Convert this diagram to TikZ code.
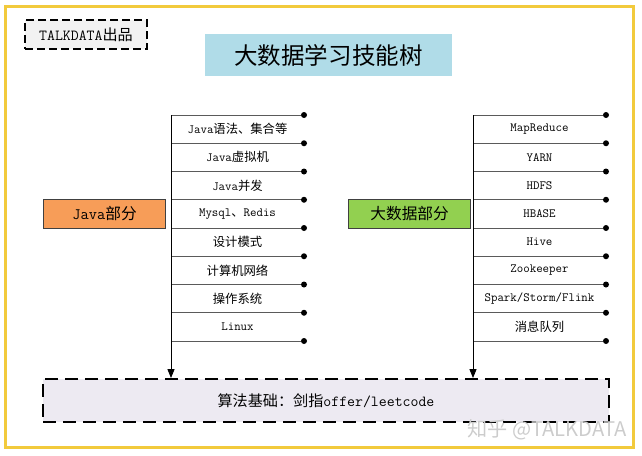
\documentclass[tikz,border=0pt]{standalone}
\usepackage{fontspec}
\setmainfont[Scale=1.14]{Latin Modern Mono}
\newfontfamily\cjk[Scale=1.12]{Noto Sans CJK SC}
\newcommand{\zh}[1]{{\cjk #1}}
\usetikzlibrary{positioning, calc, arrows.meta}

\definecolor{frameyellow}{RGB}{242,202,60}
\definecolor{titleblue}{RGB}{176,220,232}
\definecolor{javaorange}{RGB}{247,157,88}
\definecolor{datagreen}{RGB}{146,208,80}
\definecolor{algofill}{RGB}{237,234,242}
\definecolor{brandfill}{RGB}{242,242,242}
\definecolor{linegray}{RGB}{90,90,90}

\begin{document}
\begin{tikzpicture}[x=1pt, y=-1pt,
    dot/.style={circle, fill=black, inner sep=0pt, minimum size=6pt},
    leaf/.style={font=\fontsize{11}{13}\selectfont},
    part/.style={draw=black!75, line width=0.8pt, minimum width=122pt, minimum height=29pt,
        font=\fontsize{14}{16}\selectfont},
    spine/.style={line width=1pt, -{Triangle[length=9pt, width=7pt]}}
    ]
    \useasboundingbox (0,0) rectangle (642,455);

    % Outer frame and header boxes
    \draw[frameyellow, line width=3pt] (5,6) rectangle (633,447);
    \node (brand) [draw, line width=1.2pt, dash pattern=on 8pt off 4pt, fill=brandfill,
        minimum width=122pt, minimum height=29pt, font=\fontsize{13.5}{15}\selectfont]
        at (86,34.5) {TALKDATA\zh{出品}};
    \node (title) [fill=titleblue, minimum width=247pt, minimum height=42pt,
        font=\fontsize{21}{24}\selectfont] at (328.5,55) {\zh{大数据学习技能树}};

    % Algorithm base at the bottom
    \node (algo) [draw, line width=1.8pt, dash pattern=on 13pt off 7pt, fill=algofill,
        minimum width=566pt, minimum height=43pt, font=\fontsize{13.5}{15}\selectfont]
        at (326,400.5) {\zh{算法基础：剑指}offer/leetcode};

    % Java branch
    \foreach \k in {1,...,9} {
        \coordinate (js\k) at (171, {115+(\k-1)*28.25});
        \node (jd\k) [dot] at (304, {115+(\k-1)*28.25}) {};
        \draw[linegray, line width=1pt] (js\k) -- (jd\k);
    }
    \foreach \t [count=\k] in {{Java\zh{语法、集合等}}, {Java\zh{虚拟机}}, {Java\zh{并发}},
        {Mysql\zh{、}Redis}, {\zh{设计模式}}, {\zh{计算机网络}}, {\zh{操作系统}}, {Linux}} {
        \node (jl\k) [leaf] at ($(js\k)!0.5!(jd\k)+(0,14)$) {\t};
    }
    \draw[spine] (js1) -- (js9 |- algo.north);
    \coordinate (jmid) at ($(js4)!0.5!(js5)$);
    \node (java) [part, fill=javaorange, left=5pt of jmid] {Java\zh{部分}};

    % Big data branch
    \foreach \k in {1,...,9} {
        \coordinate (bs\k) at (473, {115+(\k-1)*28.25});
        \node (bd\k) [dot] at (606, {115+(\k-1)*28.25}) {};
        \draw[linegray, line width=1pt] (bs\k) -- (bd\k);
    }
    \foreach \t [count=\k] in {MapReduce, YARN, HDFS, HBASE, Hive, Zookeeper,
        Spark/Storm/Flink, {\zh{消息队列}}} {
        \node (bl\k) [leaf] at ($(bs\k)!0.5!(bd\k)+(0,14)$) {\t};
    }
    \draw[spine] (bs1) -- (bs9 |- algo.north);
    \coordinate (bmid) at ($(bs4)!0.5!(bs5)$);
    \node (bigdata) [part, fill=datagreen, left=2pt of bmid] {\zh{大数据部分}};

    % Watermark
    \node (mark) [text=gray!40, font=\cjk\fontsize{18}{20}\selectfont] at (547,430) {知乎 @TALKDATA};
\end{tikzpicture}
\end{document}
